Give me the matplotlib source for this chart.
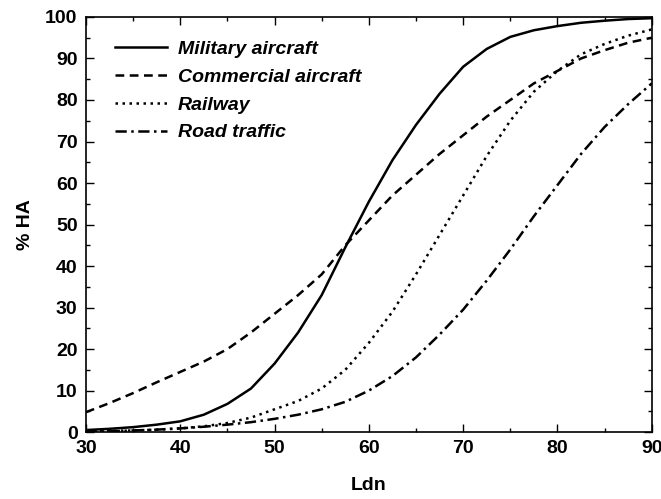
import matplotlib
matplotlib.use("Agg")
import matplotlib.pyplot as plt
from matplotlib.ticker import MultipleLocator

plt.rcParams['font.family'] = ['Liberation Sans', 'DejaVu Sans']
plt.rcParams['font.weight'] = 'bold'

ldn = [30, 32.5, 35, 37.5, 40, 42.5, 45, 47.5, 50, 52.5, 55, 57.5, 60,
       62.5, 65, 67.5, 70, 72.5, 75, 77.5, 80, 82.5, 85, 87.5, 90]

military = [0.5, 0.8, 1.2, 1.8, 2.6, 4.2, 6.8, 10.5, 16.5, 24, 33, 44.5, 55.5,
            65.5, 74, 81.5, 88, 92.3, 95.2, 96.8, 97.8, 98.6, 99.1, 99.5, 99.7]
commercial = [4.8, 7, 9.4, 12, 14.5, 17, 20, 24, 28.5, 33, 38, 45, 51,
              57, 62, 67, 71.5, 76, 80, 84, 87, 90, 92, 93.8, 95]
railway = [0.2, 0.3, 0.4, 0.6, 0.9, 1.4, 2.2, 3.5, 5.5, 7.5, 10.5, 15, 21.5,
           29, 38, 47.5, 57, 66.5, 75, 82, 87, 91, 93.5, 95.5, 97]
road = [0.1, 0.2, 0.4, 0.6, 0.9, 1.3, 1.8, 2.4, 3.2, 4.2, 5.5, 7.3, 10,
        13.5, 18, 23.5, 29.5, 36.5, 44, 52, 59.5, 67, 73.5, 79, 84]

labels = ['Military aircraft', 'Commercial aircraft', 'Railway', 'Road traffic']

fig = plt.figure(figsize=(6.61, 4.99), dpi=100)
ax = fig.add_axes([0.130, 0.134, 0.856, 0.832])

lw = 1.8
ax.plot(ldn, military, color='black', lw=lw, label=labels[0])
ax.plot(ldn, commercial, color='black', lw=lw, dashes=(3.5, 2.2), label=labels[1])
ax.plot(ldn, railway, color='black', lw=lw, dashes=(1, 1.8), label=labels[2])
ax.plot(ldn, road, color='black', lw=lw, dashes=(4.5, 1.8, 1, 1.8), label=labels[3])

ax.set_xlim(30, 90)
ax.set_ylim(0, 100)
ax.xaxis.set_major_locator(MultipleLocator(10))
ax.xaxis.set_minor_locator(MultipleLocator(5))
ax.yaxis.set_major_locator(MultipleLocator(10))
ax.yaxis.set_minor_locator(MultipleLocator(5))
ax.tick_params(which='both', direction='in', top=True, right=True,
               width=1.0, labelsize=14, pad=6)
ax.tick_params(which='major', length=6)
ax.tick_params(which='minor', length=3)
for s in ax.spines.values():
    s.set_linewidth(1.2)

ax.set_xlabel('Ldn', fontsize=14, fontweight='bold', labelpad=14)
ax.set_ylabel('% HA', fontsize=14, fontweight='bold', labelpad=8)

leg = ax.legend(loc='upper left', frameon=False, handlelength=2.7,
                bbox_to_anchor=(0.02, 0.985),
                prop={'size': 14, 'weight': 'bold', 'style': 'italic'},
                labelspacing=0.52, handletextpad=0.55)

fig.savefig('out.png', dpi=100)
